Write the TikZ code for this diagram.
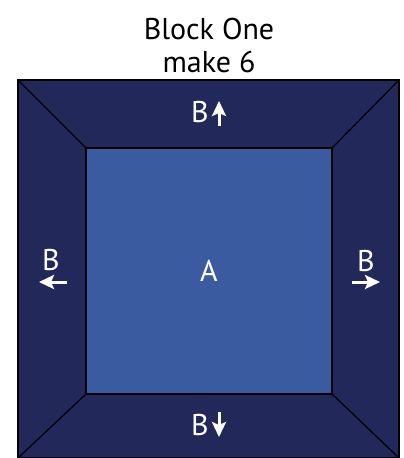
\documentclass[tikz,border=0pt]{standalone}
\usepackage{fontspec}
\setmainfont{PT Sans}
\usepackage{xcolor}
\usetikzlibrary{arrows.meta,positioning}
\definecolor{borderblue}{HTML}{22285A}
\definecolor{centreblue}{HTML}{3B5BA0}

\begin{document}
\begin{tikzpicture}[
    x=1pt, y=-1pt,
    piece/.style={text=white, font=\fontsize{30}{34}\selectfont, inner sep=0pt},
    heading/.style={font=\fontsize{30}{33}\selectfont, align=center, inner sep=0pt},
    seam/.style={draw=black, line width=1.2pt},
    grain/.style={white, line width=3pt, -{Stealth[length=15pt, width=14pt, inset=3pt]}}
]
    \useasboundingbox (0,0) rectangle (404,458);
    % corners of the block
    \coordinate (outerNW) at (18,80);
    \coordinate (outerNE) at (399,80);
    \coordinate (outerSE) at (399,458);
    \coordinate (outerSW) at (18,458);
    \coordinate (innerNW) at (86,148);
    \coordinate (innerNE) at (332,148);
    \coordinate (innerSE) at (332,394);
    \coordinate (innerSW) at (86,394);

    \fill [borderblue] (outerNW) rectangle (outerSE);
    \fill [centreblue] (innerNW) rectangle (innerSE);
    \draw [seam] (outerNW) -- (innerNW);
    \draw [seam] (outerNE) -- (innerNE);
    \draw [seam] (outerSE) -- (innerSE);
    \draw [seam] (outerSW) -- (innerSW);
    \draw [seam] (outerNW) rectangle (outerSE);
    \draw [seam] (innerNW) rectangle (innerSE);

    \node [heading] (title) at (209,45) {Block One\\make 6};
    \node [piece] (centre) at (209,271) {A};

    % border strips with grain arrows
    \node [piece] (topB) at (200,112) {B};
    \coordinate (topTail) at (219,126);
    \coordinate (topHead) at (219,101);
    \draw [grain] (topTail) -- (topHead);

    \node [piece] (bottomB) at (200,425) {B};
    \coordinate (bottomTail) at (219,412);
    \coordinate (bottomHead) at (219,437);
    \draw [grain] (bottomTail) -- (bottomHead);

    \node [piece] (leftB) at (51,260) {B};
    \coordinate (leftTail) at (67,282);
    \coordinate (leftHead) at (39,282);
    \draw [grain] (leftTail) -- (leftHead);

    \node [piece] (rightB) at (366,261) {B};
    \coordinate (rightTail) at (352,282);
    \coordinate (rightHead) at (380,282);
    \draw [grain] (rightTail) -- (rightHead);
\end{tikzpicture}
\end{document}
